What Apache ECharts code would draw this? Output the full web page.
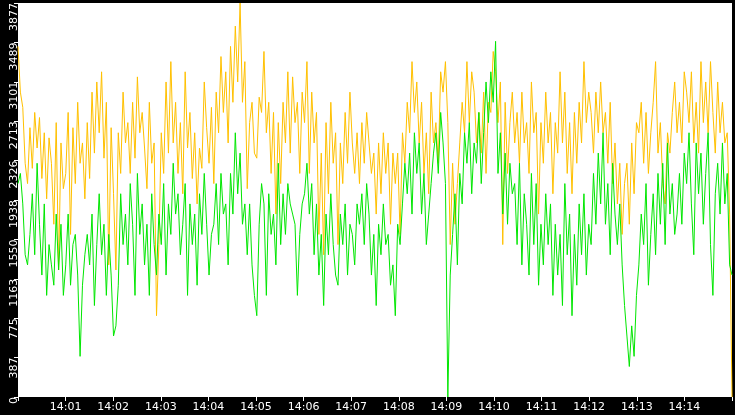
<!DOCTYPE html>
<html>
<head>
<meta charset="utf-8">
<script src="https://cdn.jsdelivr.net/npm/echarts@6/dist/echarts.min.js"></script>
<style>html,body{margin:0;padding:0;background:#000;}#chart{width:735px;height:415px;}</style>
</head>
<body>
<div id="chart"></div>
<script>
// one value every ~3 seconds, 14:00:00 - 14:15:00, twenty values per minute
const orangeValues = [
  3450,3000,2850,2300,2100,2650,2250,2800,2450,2750,2150,2600,1950,2550,2300,1700,2700,1250,2500,2050,
  2200,2800,1600,2650,2100,2900,2300,2500,1950,2700,2150,3000,2400,3100,2600,3200,2350,2900,1300,2650,
  2000,1250,2600,2200,3000,2500,2700,2200,2900,2350,3150,2600,2800,2450,2050,2900,2300,2500,800,1500,
  2600,2200,3100,2400,3300,2500,2900,2200,2700,2000,3200,2450,2800,2150,2600,1900,2450,2250,3100,2650,
  2300,2850,2100,3000,2600,3350,2800,3200,2500,3450,2900,3650,3100,3877,2900,3300,2050,2700,2900,2400,
  2350,2950,2800,3400,2600,2900,2200,2800,1800,2700,2100,2900,2500,3200,2400,3150,2700,2900,2200,3000,
  2700,3300,2200,3000,2500,2800,1600,2400,1400,2700,2000,2900,2300,2600,1500,2500,2100,2800,2300,3000,
  2500,2200,2600,2100,2700,2300,2800,2500,2200,2400,1800,2500,2000,2600,2200,2500,1700,2400,2100,2400,
  1600,2600,2300,2900,2600,3300,2800,3100,2500,2900,2200,2600,2000,3000,2500,2700,2300,3200,3000,3300,
  2700,1500,2300,1700,2100,2500,2900,2600,3300,2700,3200,3000,2500,2800,2400,3000,2200,2900,2800,3400,
  3200,2700,3100,1500,2900,2200,2700,3000,2500,2800,2300,3000,2500,2700,2200,3100,2600,2800,1800,2700,
  2300,3000,2500,2800,2000,2700,2400,3200,2500,3000,2200,2700,2000,2800,2300,2900,2500,3300,2700,3000,
  2800,2400,3000,2600,3100,2600,2800,2300,2900,2100,2500,1900,2300,1600,2100,2300,1700,2500,2000,2700,
  2600,2900,2300,2800,2200,2600,2900,3300,2400,2700,2100,1900,2600,2400,2800,3100,2600,2900,2500,3200,
  3000,2700,3200,2500,2900,2400,3300,2700,3100,2600,3300,2800,2400,3100,2600,2900,2500,2600,1800,0
];
const greenValues = [
  2100,2200,1900,1400,1300,1600,2000,1400,2300,1700,1200,1900,1000,1500,1300,1100,1800,1250,1700,1000,
  1300,1800,1100,1500,1600,1200,400,1100,1400,1600,1300,1800,900,1500,2000,1400,1700,1000,1600,1200,
  600,700,1100,2000,1500,1800,1300,2100,1700,1000,2200,1600,1900,1300,1700,1000,2000,1500,1200,1800,
  1500,2100,1200,1900,1600,2300,1800,2000,1400,1700,2100,1000,1900,1500,1800,1100,2000,1600,2200,1700,
  1200,1600,1700,2100,1500,2200,1800,1900,1300,2200,1800,2600,2000,2400,1700,1900,1400,1900,1300,1000,
  800,1700,2100,1900,1000,2000,1600,1800,1300,2300,1500,2000,1600,2100,1900,1800,1700,1000,1600,1900,
  2000,2300,1800,2100,1400,1900,1200,1600,900,1800,1400,2000,1500,1200,1100,1800,1500,1900,1200,1700,
  1600,1300,1900,1700,2000,1500,2100,1800,1200,1600,900,1700,1400,1900,1500,1600,1100,1300,800,1700,
  1500,1900,2300,2000,2400,1800,2600,2200,2500,1800,2200,1500,1800,2100,2400,2600,2200,2800,2500,2100,
  0,1200,1600,2000,1300,2200,1900,2600,2300,2700,2000,2500,2300,2800,2100,2600,3100,2700,3200,2900,
  3500,2200,2600,1800,2400,1700,2300,2000,2100,1500,2300,1300,2000,1700,1200,2200,1500,2100,1100,1700,
  1300,2000,1500,1900,1000,1700,1200,1600,900,2100,1400,1800,800,1600,1100,1900,1400,2000,1200,1700,
  1500,2200,1700,2400,1900,2600,1700,2100,1400,2300,1800,1500,1900,1300,900,600,300,700,400,1000,
  1300,1800,1500,2100,1100,1600,2000,1400,2200,1700,2300,1500,2500,1800,2100,1600,1800,2200,1700,2400,
  2100,2600,1900,1400,2500,2000,2400,1700,2200,2600,1500,1000,2000,2300,1800,2500,1900,2200,1300,1200
];
const totalSeconds = 900;
const yMax = 3877;

const toPairs = (vals) => vals.map((v, i) => [i * totalSeconds / (vals.length - 1), v]);

const chart = echarts.init(document.getElementById("chart"));
chart.setOption({
  backgroundColor: "#000",
  animation: false,
  grid: {left: 18, right: 0, top: 0, bottom: 18, show: true, backgroundColor: "#fff", borderWidth: 0},
  xAxis: {
    type: "value", min: 0, max: totalSeconds, interval: 60,
    axisLine: {show: false},
    axisTick: {show: true, length: 4, lineStyle: {color: "#fff"}},
    splitLine: {show: false},
    axisLabel: {
      color: "#fff", fontFamily: "DejaVu Sans", fontSize: 11, margin: 5,
      formatter: (v) => (v <= 0 || v >= totalSeconds) ? "" : "14:" + String(v / 60).padStart(2, "0")
    }
  },
  yAxis: {
    type: "value", min: 0, max: yMax, interval: yMax / 10,
    axisLine: {show: false},
    axisTick: {show: true, length: 4, lineStyle: {color: "#fff"}},
    splitLine: {show: false},
    axisLabel: {
      color: "#fff", fontFamily: "DejaVu Sans", fontSize: 11, rotate: 90, margin: 4,
      align: "right", verticalAlign: "middle",
      formatter: (v) => String(Math.floor(v + 1e-6))
    }
  },
  series: [
    {type: "line", data: toPairs(orangeValues), symbol: "none", lineStyle: {color: "#ffc000", width: 1}},
    {type: "line", data: toPairs(greenValues), symbol: "none", lineStyle: {color: "#00e600", width: 1}}
  ]
});
</script>
</body>
</html>
